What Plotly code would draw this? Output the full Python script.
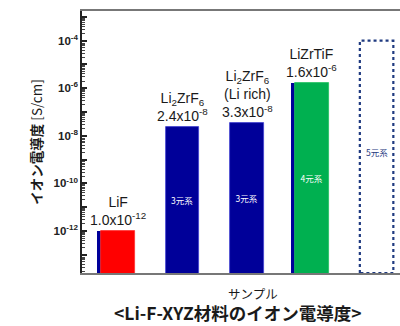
import numpy as np
import plotly.graph_objects as go

# --- data -------------------------------------------------------------
samples = ["LiF", "Li<sub>2</sub>ZrF<sub>6</sub>",
           "Li<sub>2</sub>ZrF<sub>6</sub><br>(Li rich)", "LiZrTiF", "5元系"]
conductivity = [1.0e-12, 2.4e-8, 3.3e-8, 1.6e-6]
value_labels = ["1.0x10<sup>-12</sup>", "2.4x10<sup>-8</sup>",
                "3.3x10<sup>-8</sup>", "1.6x10<sup>-6</sup>"]
system_labels = ["", "3元系", "3元系", "4元系"]
bar_colors = ["#ff0000", "#000099", "#000099", "#00b050"]
bar_edge_colors = ["#ff3030", "#3f3fd0", "#3f3fd0", "#20c060"]
placeholder_value = 1.0e-4
placeholder_label = "5元系"

y_tick_exponents = [-13, -12, -11, -10, -9, -8, -7, -6, -5, -4, -3]

# --- layout constants --------------------------------------------------
LOG_MIN, LOG_MAX = -13.77, -2.75
X_RANGE = [-0.555, 4.362]
BAR_W = 0.518
STRIP_W = 0.068
FONT = "Liberation Sans, Arial, Noto Sans CJK JP"
JP_FONT = "Noto Sans CJK JP, Liberation Sans"

xs = np.arange(len(conductivity))

# major ticks every decade, labels on the even ones
tick_vals = [10.0 ** e for e in y_tick_exponents]
tick_text = [f"10<sup>{e}</sup>" if e % 2 == 0 else "" for e in y_tick_exponents]
minor_vals = [d * 10.0 ** e for e in range(-14, -2) for d in range(2, 10)]

fig = go.Figure()

# thin blue backing strip on the left of the LiF and LiZrTiF bars
strip_idx = [0, 3]
fig.add_trace(go.Bar(
    x=[xs[i] for i in strip_idx],
    y=[conductivity[i] for i in strip_idx],
    width=STRIP_W,
    offset=-BAR_W / 2 - STRIP_W,
    marker=dict(color="#000099", line=dict(width=0)),
    showlegend=False, hoverinfo="skip",
))

# main bars
fig.add_trace(go.Bar(
    x=xs, y=conductivity, width=BAR_W,
    marker=dict(color=bar_colors, line=dict(color=bar_edge_colors, width=0.8)),
    text=system_labels, textposition="inside", insidetextanchor="middle",
    textangle=0,
    textfont=dict(family=JP_FONT, size=8.5, color="white"),
    showlegend=False, hoverinfo="skip",
))

# dotted outline for the not-yet-measured 5-component system
px = len(conductivity)
y_bottom = 10 ** LOG_MIN
fig.add_trace(go.Scatter(
    x=[px - BAR_W / 2, px - BAR_W / 2, px + BAR_W / 2, px + BAR_W / 2, px - BAR_W / 2],
    y=[y_bottom, placeholder_value, placeholder_value, y_bottom, y_bottom],
    mode="lines", line=dict(color="#1f3a80", width=2.2, dash="dot"),
    showlegend=False, hoverinfo="skip",
))
fig.add_annotation(
    x=px, y=(np.log10(placeholder_value) + LOG_MIN) / 2 + 0.2,
    text=placeholder_label, showarrow=False,
    font=dict(family=JP_FONT, size=8.5, color="#1f3a80"),
)

# sample name + value above each bar
for i, v in enumerate(conductivity):
    fig.add_annotation(
        x=xs[i], y=np.log10(v), yanchor="bottom", yshift=1,
        text=f"{samples[i]}<br>{value_labels[i]}", showarrow=False,
        font=dict(family=FONT, size=14, color="#1a1a1a"),
    )

fig.update_layout(
    width=400, height=326,
    margin=dict(l=82, r=0, t=11, b=53),
    paper_bgcolor="white", plot_bgcolor="white",
    bargap=0, barmode="overlay",
    font=dict(family=FONT, color="#1a1a1a"),
    xaxis=dict(
        range=X_RANGE, showticklabels=False, ticks="",
        showgrid=False, zeroline=False,
        showline=True, linecolor="#777777", linewidth=1.5, mirror=True,
    ),
    yaxis=dict(
        type="log", range=[LOG_MIN, LOG_MAX],
        tickmode="array", tickvals=tick_vals, ticktext=tick_text,
        tickfont=dict(family=FONT, size=11.5, color="#222222", weight="bold"),
        ticks="inside", ticklen=5, tickwidth=1.5, tickcolor="#222222",
        minor=dict(ticks="inside", ticklen=3, tickwidth=1, tickcolor="#444444",
                   tickmode="array", tickvals=minor_vals, showgrid=False),
        showgrid=False, zeroline=False,
        showline=True, linecolor="#222222", linewidth=1.5,
        title=dict(text="<b>イオン電導度</b> [S/cm]", standoff=8,
                   font=dict(family=JP_FONT, size=13.5, color="#1a1a1a")),
    ),
)

# axis caption and chart caption underneath
fig.add_annotation(
    xref="paper", yref="paper", x=(253 - 82) / 318, y=-0.08,
    text="サンプル", showarrow=False, yanchor="middle",
    font=dict(family=JP_FONT, size=12.5, color="#1a1a1a"),
)
fig.add_annotation(
    xref="paper", yref="paper", x=(237 - 82) / 318, y=-0.152,
    text="<b>&lt;Li-F-XYZ材料のイオン電導度&gt;</b>", showarrow=False,
    yanchor="middle",
    font=dict(family=JP_FONT, size=17.5, color="#1a1a1a"),
)

fig.write_html("out.html")
